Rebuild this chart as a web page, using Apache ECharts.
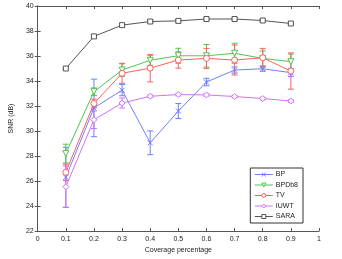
<!DOCTYPE html>
<html><head><meta charset="utf-8">
<script src="https://cdn.jsdelivr.net/npm/echarts@6/dist/echarts.min.js"></script>
<style>html,body{margin:0;padding:0;background:#fff}#c{width:342px;height:259px}</style>
</head><body><div id="c"></div>
<script>
const coverage = [0.1,0.2,0.3,0.4,0.5,0.6,0.7,0.8,0.9];
const BP = [26.3,31.85,33.27,29.06,31.6,33.92,34.88,34.98,34.67];
const BP_err = [2.4,2.3,0.45,0.95,0.6,0.3,0.25,0.2,0.3];
const BPDb8 = [28.2,33.15,34.88,35.66,36.02,36.02,36.22,35.81,35.55];
const BPDb8_err = [0.75,0.3,0.5,0.4,0.6,0.9,0.8,0.6,0.6];
const TV = [26.7,32.2,34.62,35.03,35.68,35.81,35.68,35.86,34.8];
const TV_err = [0.65,0.35,0.8,1.1,0.65,0.8,1.2,0.75,1.45];
const IUWT = [25.55,30.9,32.24,32.78,32.92,32.89,32.76,32.6,32.4];
const IUWT_err = [1.65,0.7,0.4,0.1,0.1,0.1,0.1,0.1,0.1];
const SARA = [35.0,37.57,38.47,38.76,38.81,38.96,38.96,38.84,38.6];
const SARA_err = [0.05,0.1,0.1,0.1,0.1,0.1,0.1,0.1,0.1];
const yTicks = [22,24,26,28,30,32,34,36,38,40];
const xTicks = [0,0.1,0.2,0.3,0.4,0.5,0.6,0.7,0.8,0.9,1];

const defs = [
  {name:'BP', y:BP, e:BP_err, color:'#6f7fff', symbol:'path://M0,0L10,10M10,0L0,10', size:5},
  {name:'BPDb8', y:BPDb8, e:BPDb8_err, color:'#4fc64f', symbol:'path://M0,0L10,0L5,9Z', size:6},
  {name:'TV', y:TV, e:TV_err, color:'#ff5f5f', symbol:'circle', size:6},
  {name:'IUWT', y:IUWT, e:IUWT_err, color:'#d070ff', symbol:'diamond', size:6},
  {name:'SARA', y:SARA, e:SARA_err, color:'#555555', symbol:'rect', size:5}
];
const font = 'Liberation Sans, Arial, sans-serif';
const series = [];
defs.forEach(d => {
  series.push({
    name:d.name, type:'line', data: coverage.map((x,i)=>[x,d.y[i]]),
    symbol:d.symbol, symbolSize:d.size, showSymbol:true,
    lineStyle:{color:d.color, width:1},
    itemStyle:{color:'#fff', borderColor:d.color, borderWidth:1},
    color:d.color, z:3, animation:false
  });
  series.push({
    name:d.name, type:'custom', z:2, animation:false,
    data: coverage.map((x,i)=>[x, d.y[i]-d.e[i], d.y[i]+d.e[i]]),
    renderItem:(params, api) => {
      const lo = api.coord([api.value(0), api.value(1)]);
      const hi = api.coord([api.value(0), api.value(2)]);
      const w = 3;
      const st = {stroke:d.color, lineWidth:1, fill:null};
      return {type:'group', children:[
        {type:'line', shape:{x1:lo[0],y1:lo[1],x2:hi[0],y2:hi[1]}, style:st},
        {type:'line', shape:{x1:lo[0]-w,y1:lo[1],x2:lo[0]+w,y2:lo[1]}, style:st},
        {type:'line', shape:{x1:hi[0]-w,y1:hi[1],x2:hi[0]+w,y2:hi[1]}, style:st}
      ]};
    }
  });
});
const axLine = {lineStyle:{color:'#555', width:1}};
const option = {
  animation:false,
  backgroundColor:'#fff',
  grid:{left:24, right:23, top:6, bottom:21, show:false},
  legend:{
    data: defs.map(d=>d.name),
    orient:'vertical', right:39, top:168,
    itemWidth:18, itemHeight:5, itemGap:3.5,
    backgroundColor:'#fff', borderColor:'#333', borderWidth:1,
    padding:[3,5,3,4],
    lineStyle:{width:1},
    itemStyle:{color:'#fff', borderWidth:1},
    textStyle:{fontFamily:font, fontSize:7, color:'#222', padding:[0,0,0,-2]}
  },
  xAxis:[{
    type:'value', min:0, max:1, interval:0.1, position:'bottom',
    name:'Coverage percentage', nameLocation:'middle', nameGap:11,
    nameTextStyle:{fontFamily:font, fontSize:7, color:'#222'},
    axisLine:axLine, axisTick:{inside:true, length:3, lineStyle:{color:'#555'}},
    axisLabel:{fontFamily:font, fontSize:7, color:'#222', margin:4,
      formatter:v=>{const t=xTicks.find(k=>Math.abs(k-v)<1e-6); return t===undefined?'':String(t);}},
    splitLine:{show:false}
  },{
    type:'value', min:0, max:1, interval:0.1, position:'top',
    axisLine:axLine, axisTick:{inside:true, length:3, lineStyle:{color:'#555'}},
    axisLabel:{show:false}, splitLine:{show:false}
  }],
  yAxis:[{
    type:'value', min:22, max:40, interval:2, position:'left',
    name:'SNR (dB)', nameLocation:'middle', nameGap:15, nameRotate:90,
    nameTextStyle:{fontFamily:font, fontSize:7, color:'#222'},
    axisLine:{show:true, lineStyle:{color:'#555'}}, axisTick:{show:true, inside:true, length:3, lineStyle:{color:'#555'}},
    axisLabel:{fontFamily:font, fontSize:7, color:'#222', margin:4,
      formatter:v=>yTicks.includes(v)?String(v):''},
    splitLine:{show:false}
  },{
    type:'value', min:22, max:40, interval:2, position:'right',
    axisLine:{show:true, lineStyle:{color:'#555'}}, axisTick:{show:true, inside:true, length:3, lineStyle:{color:'#555'}},
    axisLabel:{show:false}, splitLine:{show:false}
  }],
  series: series
};
const chart = echarts.init(document.getElementById('c'), null, {renderer:'canvas'});
chart.setOption(option);
</script></body></html>
